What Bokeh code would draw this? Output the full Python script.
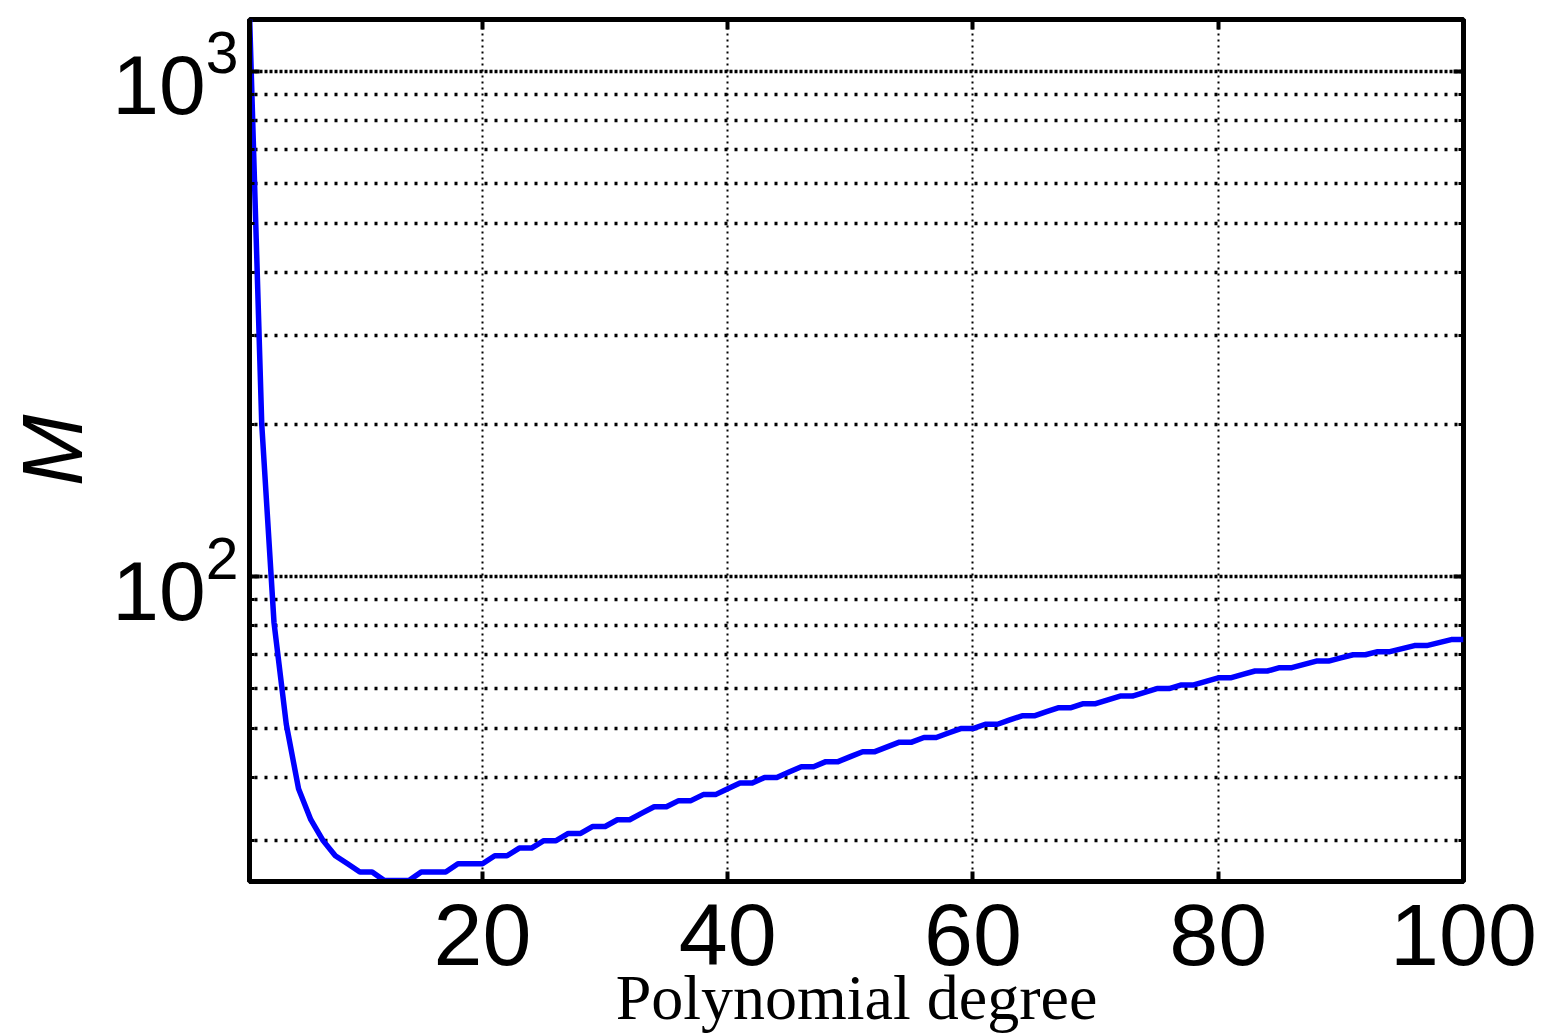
from bokeh.plotting import figure
from bokeh.models import Range1d, FixedTicker, LogAxis, LinearAxis, CustomJSTickFormatter
from bokeh.embed import file_html
from bokeh.resources import INLINE

# ---- data ----
degree = list(range(1, 101))
M = [1300, 200, 81, 51, 38, 33, 30, 28, 27, 26,
     26, 25, 25, 25, 26, 26, 26, 27, 27, 27,
     28, 28, 29, 29, 30, 30, 31, 31, 32, 32,
     33, 33, 34, 35, 35, 36, 36, 37, 37, 38,
     39, 39, 40, 40, 41, 42, 42, 43, 43, 44,
     45, 45, 46, 47, 47, 48, 48, 49, 50, 50,
     51, 51, 52, 53, 53, 54, 55, 55, 56, 56,
     57, 58, 58, 59, 60, 60, 61, 61, 62, 63,
     63, 64, 65, 65, 66, 66, 67, 68, 68, 69,
     70, 70, 71, 71, 72, 73, 73, 74, 75, 75]

x_ticks = [20, 40, 60, 80, 100]
x_grid_ticks = [20, 40, 60, 80]
y_major_ticks = [100, 1000]
y_minor_ticks = [30, 40, 50, 60, 70, 80, 90, 100,
                 200, 300, 400, 500, 600, 700, 800, 900, 1000]
x_label = "Polynomial degree"
y_label = "M"

p = figure(width=1546, height=1035,
           x_range=Range1d(1, 100), y_range=Range1d(24.9, 1267),
           y_axis_type="log",
           output_backend="svg", toolbar_location=None,
           min_border_left=249, min_border_right=83,
           min_border_top=19, min_border_bottom=154)

p.background_fill_color = "white"
p.border_fill_color = "white"
p.outline_line_color = "black"
p.outline_line_width = 5

xt = FixedTicker(ticks=x_ticks)
yt = FixedTicker(ticks=y_major_ticks, minor_ticks=y_minor_ticks)

# bottom axis
xa = p.xaxis[0]
xa.ticker = xt
xa.axis_line_width = 5
xa.major_tick_in = 10
xa.major_tick_out = 0
xa.major_tick_line_width = 4
xa.minor_tick_line_color = None
xa.major_label_text_font = "Liberation Sans"
xa.major_label_text_font_size = "88px"
xa.major_label_text_color = "black"
xa.major_label_standoff = 23
xa.axis_label = x_label
xa.axis_label_text_font = "Liberation Serif"
xa.axis_label_text_font_size = "64px"
xa.axis_label_text_font_style = "normal"
xa.axis_label_text_color = "black"
xa.axis_label_standoff = -6

# left axis
ya = p.yaxis[0]
ya.ticker = yt
ya.axis_line_width = 5
ya.major_tick_in = 10
ya.major_tick_out = 0
ya.major_tick_line_width = 4
ya.minor_tick_in = 5
ya.minor_tick_out = 0
ya.minor_tick_line_width = 3
ya.major_label_text_font = "Liberation Sans"
ya.major_label_text_font_size = "84px"
ya.major_label_text_color = "black"
ya.major_label_standoff = 11
ya.axis_label = y_label
ya.axis_label_text_font = "Liberation Sans"
ya.axis_label_text_font_size = "86px"
ya.axis_label_text_font_style = "italic"
ya.axis_label_text_color = "black"
ya.axis_label_standoff = 9

blank = CustomJSTickFormatter(code="return ''")

# right axis (ticks only)
ra = LogAxis(ticker=yt, formatter=blank, axis_line_color=None,
             major_tick_in=10, major_tick_out=0, major_tick_line_width=4,
             minor_tick_in=5, minor_tick_out=0, minor_tick_line_width=3,
             major_label_standoff=0, major_label_text_font_size="1px")
p.add_layout(ra, "right")

# top axis (ticks only)
ta = LinearAxis(ticker=xt, formatter=blank, axis_line_color=None,
                major_tick_in=10, major_tick_out=0, major_tick_line_width=4,
                minor_tick_line_color=None,
                major_label_standoff=0, major_label_text_font_size="1px")
p.add_layout(ta, "above")

# grids
p.xgrid.ticker = FixedTicker(ticks=x_grid_ticks)
p.xgrid.grid_line_color = "black"
p.xgrid.grid_line_width = 2
p.xgrid.grid_line_dash = "2 4"

p.ygrid.ticker = yt
p.ygrid.grid_line_color = "black"
p.ygrid.grid_line_width = 3.5
p.ygrid.grid_line_dash = "3 7"
p.ygrid.minor_grid_line_color = "black"
p.ygrid.minor_grid_line_width = 3.5
p.ygrid.minor_grid_line_dash = "3 7"
p.ygrid.minor_grid_line_dash_offset = 5

p.line(degree, M, line_color="#0000FF", line_width=5.5, line_join="round")

open("out.html", "w").write(file_html(p, INLINE))
